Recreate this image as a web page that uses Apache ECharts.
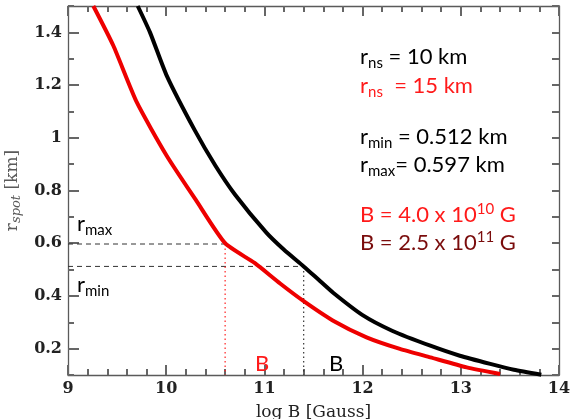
<!DOCTYPE html>
<html>
<head>
<meta charset="utf-8">
<script src="https://cdn.jsdelivr.net/npm/echarts@6/dist/echarts.min.js"></script>
<style>
html,body{margin:0;padding:0;background:#fff;}
#chart{width:571px;height:419px;}
</style>
</head>
<body>
<div id="chart"></div>
<script>
// ---- data ----
var blackLogB = [9.71, 9.835, 10.005, 10.293, 10.50, 10.70, 11.02, 11.20, 11.40, 11.55, 11.70, 12.00, 12.30, 12.69, 12.99, 13.30, 13.54, 13.82];
var blackR    = [1.50, 1.40, 1.236, 1.027, 0.895, 0.785, 0.640, 0.575, 0.512, 0.462, 0.412, 0.327, 0.268, 0.211, 0.173, 0.142, 0.120, 0.101];
var redLogB   = [9.258, 9.461, 9.70, 10.005, 10.30, 10.60, 10.90, 11.16, 11.40, 11.70, 12.04, 12.38, 12.69, 13.06, 13.40];
var redR      = [1.50, 1.35, 1.135, 0.932, 0.765, 0.600, 0.525, 0.447, 0.380, 0.306, 0.243, 0.199, 0.167, 0.129, 0.104];
var rMin = 0.512, rMax = 0.597;
var logBRed = 10.60, logBBlack = 11.40;
var xRange = [9, 14];
var yRange = [0.1, 1.5];
var yTickLabels = [0.2, 0.4, 0.6, 0.8, 1.0, 1.2, 1.4];

function pairs(xs, ys){ return xs.map(function(x,i){ return [x, ys[i]]; }); }

var axisColor = '#5a5a5a';
var serifFont = 'DejaVu Serif';
var sansFont = 'Lato';

var baseRich = function(color){
  return {
    a: {fontFamily: sansFont, fontSize: 22, lineHeight: 28, fill: color},
    s: {fontFamily: sansFont, fontSize: 15, lineHeight: 15, padding: [12,0,0,0], fill: color},
    p: {fontFamily: sansFont, fontSize: 15, lineHeight: 15, padding: [0,0,12,0], fill: color}
  };
};
function txt(x, y, text, color){
  return {type:'text', x: x, y: y, z: 10, style: {text: text, rich: baseRich(color), verticalAlign:'middle', align:'left'}};
}

var chart = echarts.init(document.getElementById('chart'), null, {renderer:'canvas'});
var option = {
  animation: false,
  backgroundColor: '#ffffff',
  grid: {left: 68, right: 12, top: 6, bottom: 44, containLabel: false, outerBoundsMode: 'none'},
  xAxis: [
    {type:'value', position:'bottom', min: xRange[0], max: xRange[1], interval: 1,
     axisLine:{show:true, onZero:false, lineStyle:{color: axisColor, width:1.3}},
     axisTick:{show:true, inside:true, length:10, lineStyle:{color:'#666666', width:2}},
     minorTick:{show:true, splitNumber:5, length:6, lineStyle:{color:'#666666', width:2}},
     splitLine:{show:false}, minorSplitLine:{show:false},
     axisLabel:{fontFamily: serifFont, fontWeight:'bold', fontSize:16, color:'#222', margin:6},
     name:'log B [Gauss]', nameLocation:'middle', nameGap:29,
     nameTextStyle:{fontFamily: serifFont, fontSize:17, color:'#222'}},
    {type:'value', position:'top', min: xRange[0], max: xRange[1], interval: 1,
     axisLine:{show:true, onZero:false, lineStyle:{color: axisColor, width:1.3}},
     axisTick:{show:true, inside:true, length:10, lineStyle:{color:'#666666', width:2}},
     minorTick:{show:true, splitNumber:5, length:6, lineStyle:{color:'#666666', width:2}},
     splitLine:{show:false}, minorSplitLine:{show:false}, axisLabel:{show:false}}
  ],
  yAxis: [
    {type:'value', position:'left', min: yRange[0], max: yRange[1], interval: 0.1,
     axisLine:{show:true, onZero:false, lineStyle:{color: axisColor, width:1.3}},
     axisTick:{show:true, inside:true, length:6, lineStyle:{color:'#666666', width:2}},
     splitLine:{show:false},
     axisLabel:{customValues: yTickLabels, fontFamily: serifFont, fontWeight:'bold', fontSize:16, color:'#222', margin:6,
       formatter: function(v){ return (Math.round(v*10)/10).toString(); }},
     name:'{r|r}{s|spot}{r| [km]}', nameLocation:'middle', nameGap:40, nameRotate:90,
     nameTextStyle:{rich:{
       r:{fontFamily: serifFont, fontSize:17, fill:'#222', lineHeight:22},
       s:{fontFamily: serifFont, fontStyle:'italic', fontSize:13, fill:'#222', lineHeight:13, padding:[8,0,0,0]}
     }}},
    {type:'value', position:'left', min: yRange[0], max: yRange[1],
     axisLine:{show:false},
     axisTick:{show:true, inside:true, length:11, customValues: yTickLabels, lineStyle:{color:'#666666', width:2}},
     splitLine:{show:false}, axisLabel:{show:false}},
    {type:'value', position:'right', min: yRange[0], max: yRange[1], interval: 0.1,
     axisLine:{show:true, onZero:false, lineStyle:{color: axisColor, width:1.3}},
     axisTick:{show:true, inside:true, length:7, lineStyle:{color:'#666666', width:2}},
     splitLine:{show:false}, axisLabel:{show:false}}
  ],
  series: [
    {type:'line', name:'rMax guide', data:[[xRange[0], rMax],[logBRed, rMax]], symbol:'none',
     lineStyle:{color:'#333', width:1, type:[5,4]}, z:1},
    {type:'line', name:'rMin guide', data:[[xRange[0], rMin],[logBBlack, rMin]], symbol:'none',
     lineStyle:{color:'#333', width:1, type:[5,4]}, z:1},
    {type:'line', name:'B red', data:[[logBRed, rMax],[logBRed, yRange[0]]], symbol:'none',
     lineStyle:{color:'#ff2020', width:1.2, type:[1.5,3]}, z:1},
    {type:'line', name:'B black', data:[[logBBlack, rMin],[logBBlack, yRange[0]]], symbol:'none',
     lineStyle:{color:'#333', width:1.2, type:[1.5,3]}, z:1},
    {type:'line', name:'rns 15 km', data: pairs(redLogB, redR), symbol:'none', smooth:0.2,
     lineStyle:{color:'#ee0000', width:4}, z:3},
    {type:'line', name:'rns 10 km', data: pairs(blackLogB, blackR), symbol:'none', smooth:0.2,
     lineStyle:{color:'#000000', width:4}, z:4}
  ],
  graphic: [
    txt(360, 57, '{a|r}{s|ns}{a| = 10 km}', '#000'),
    txt(360, 86, '{a|r}{s|ns}{a|  = 15 km}', '#ff1a1a'),
    txt(360, 137, '{a|r}{s|min}{a| = 0.512 km}', '#000'),
    txt(360, 165, '{a|r}{s|max}{a|= 0.597 km}', '#000'),
    txt(360, 215, '{a|B = 4.0 x 10}{p|10}{a| G}', '#ff1a1a'),
    txt(360, 243, '{a|B = 2.5 x 10}{p|11}{a| G}', '#7a0c0c'),
    txt(77, 224, '{a|r}{s|max}', '#000'),
    txt(77, 285, '{a|r}{s|min}', '#000'),
    {type:'text', x: 262, y: 364, z: 10, style:{text:'B', fontFamily: sansFont, fontSize:22, fill:'#ff1a1a', align:'center', verticalAlign:'middle'}},
    {type:'text', x: 336, y: 364, z: 10, style:{text:'B', fontFamily: sansFont, fontSize:22, fill:'#000', align:'center', verticalAlign:'middle'}}
  ]
};
chart.setOption(option);
</script>
</body>
</html>
